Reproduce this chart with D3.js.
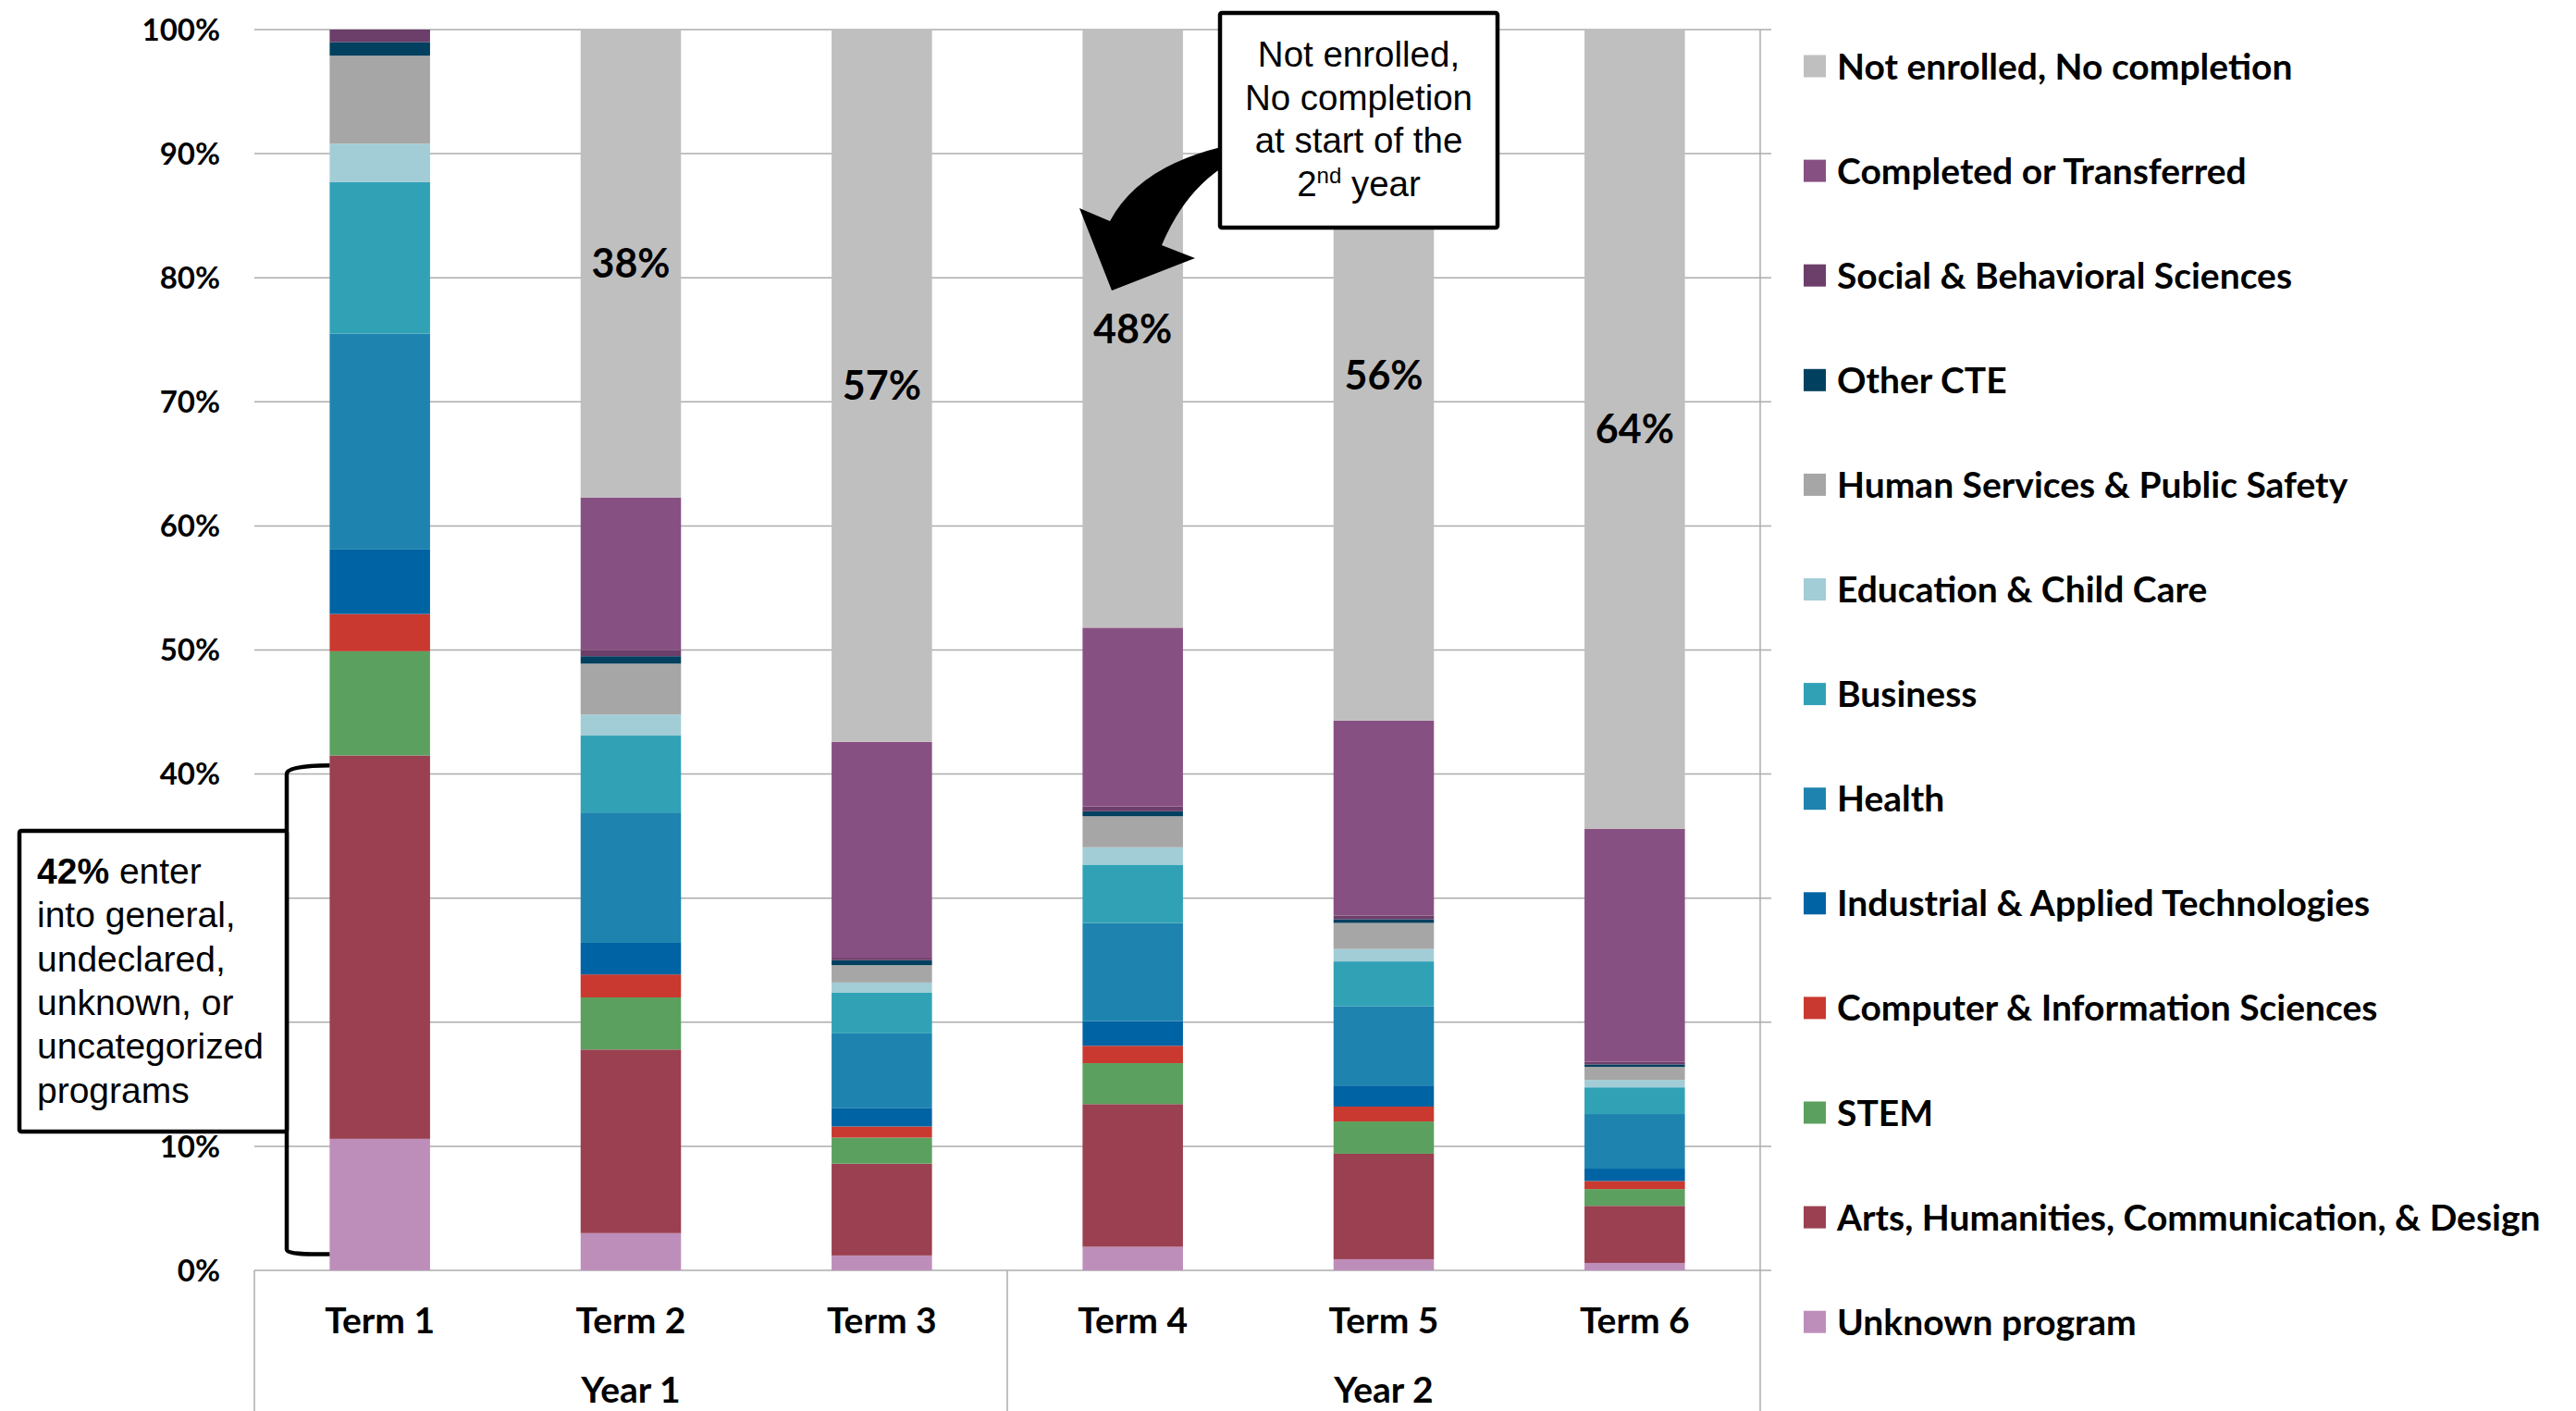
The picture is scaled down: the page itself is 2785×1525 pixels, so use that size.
<!DOCTYPE html>
<html>
<head>
<meta charset="utf-8">
<script src="https://cdn.jsdelivr.net/npm/d3@7"></script>
<style>
  body { margin: 0; background: #fff; }
  text { font-family: Lato, "Open Sans", sans-serif; }
  .note { font-family: "Liberation Sans", Arial, sans-serif; }
</style>
</head>
<body>
<script>
// categories
const terms = ["Term 1", "Term 2", "Term 3", "Term 4", "Term 5", "Term 6"];
const years = ["Year 1", "Year 2"];
const yTicks = [0, 0.1, 0.2, 0.3, 0.4, 0.5, 0.6, 0.7, 0.8, 0.9, 1];

// series values, % of cohort per term (bottom of stack first)
const unknownProgram = [10.6, 3.0, 1.2, 1.9, 0.9, 0.6];
const arts           = [30.9, 14.8, 7.4, 11.5, 8.5, 4.6];
const stem           = [8.4, 4.2, 2.1, 3.3, 2.6, 1.35];
const computer       = [3.0, 1.85, 0.9, 1.4, 1.2, 0.65];
const industrial     = [5.2, 2.55, 1.5, 2.0, 1.7, 1.0];
const health         = [17.4, 10.5, 6.0, 7.9, 6.4, 4.4];
const business       = [12.2, 6.2, 3.3, 4.7, 3.6, 2.15];
const education      = [3.1, 1.7, 0.8, 1.4, 1.0, 0.6];
const humanServices  = [7.1, 4.1, 1.4, 2.5, 2.1, 1.05];
const otherCTE       = [1.1, 0.6, 0.4, 0.4, 0.3, 0.2];
const social         = [1.0, 0.5, 0.2, 0.4, 0.3, 0.2];
const completed      = [0, 12.3, 17.4, 14.4, 15.7, 18.8];
const notEnrolled    = [0, 37.7, 57.4, 48.2, 55.7, 64.4];

const seriesNames = ["Unknown program", "Arts, Humanities, Communication, & Design", "STEM",
  "Computer & Information Sciences", "Industrial & Applied Technologies", "Health", "Business",
  "Education & Child Care", "Human Services & Public Safety", "Other CTE",
  "Social & Behavioral Sciences", "Completed or Transferred", "Not enrolled, No completion"];
const seriesValues = [unknownProgram, arts, stem, computer, industrial, health, business,
  education, humanServices, otherCTE, social, completed, notEnrolled];
const seriesColors = ["#be8eba", "#9a4050", "#5ca05f", "#c9392f", "#0063a3", "#1e84af", "#31a2b6",
  "#a2cdd6", "#a6a6a6", "#02405f", "#6c3e6a", "#875082", "#bfbfbf"];

// table for d3.stack
const table = terms.map((t, i) => {
  const row = { term: t };
  seriesNames.forEach((s, k) => { row[s] = seriesValues[k][i] / 100; });
  return row;
});
const stacked = d3.stack().keys(seriesNames)(table);

const W = 2785, H = 1525;
const plotL = 275, plotR = 1903, plotT = 32, plotB = 1373;

const svg = d3.select("body").append("svg")
  .attr("width", W).attr("height", H).attr("viewBox", `0 0 ${W} ${H}`);

const x = d3.scaleBand().domain(terms).range([plotL, plotR]).paddingInner(0.6).paddingOuter(0.3);
const y = d3.scaleLinear().domain([0, 1]).range([plotB, plotT]);
const color = d3.scaleOrdinal().domain(seriesNames).range(seriesColors);

// gridlines
svg.append("g").selectAll("line").data(yTicks).enter().append("line")
  .attr("x1", plotL).attr("x2", plotR + 12)
  .attr("y1", d => y(d)).attr("y2", d => y(d))
  .attr("stroke", "#acacac").attr("stroke-width", 1.5);

// right border line and category box lines
const mid = (x("Term 3") + x("Term 4") + x.bandwidth()) / 2;
[plotL, mid].forEach(v => {
  svg.append("line").attr("x1", v).attr("x2", v).attr("y1", plotB).attr("y2", H)
    .attr("stroke", "#acacac").attr("stroke-width", 1.5);
});
svg.append("line").attr("x1", plotR).attr("x2", plotR).attr("y1", plotT).attr("y2", H)
  .attr("stroke", "#acacac").attr("stroke-width", 1.5);

// y tick labels
svg.append("g").selectAll("text").data(yTicks).enter().append("text")
  .attr("x", 238).attr("y", d => y(d)).attr("dy", "0.36em")
  .attr("text-anchor", "end").attr("font-size", 33).attr("font-weight", 700)
  .text(d3.format(".0%"));

// bars
svg.append("g").selectAll("g").data(stacked).enter().append("g")
  .attr("fill", d => color(d.key))
  .selectAll("rect").data(d => d).enter().append("rect")
  .attr("x", d => x(d.data.term))
  .attr("width", x.bandwidth())
  .attr("y", d => y(d[1]))
  .attr("height", d => y(d[0]) - y(d[1]));

// data labels on "Not enrolled" segment
const gray = stacked[stacked.length - 1].filter(d => d[1] - d[0] > 0);
svg.append("g").selectAll("text").data(gray).enter().append("text")
  .attr("x", d => x(d.data.term) + x.bandwidth() / 2)
  .attr("y", d => y((d[0] + d[1]) / 2)).attr("dy", "0.36em")
  .attr("text-anchor", "middle").attr("font-size", 43).attr("font-weight", 700)
  .text(d => Math.round((d[1] - d[0]) * 100) + "%");

// term labels
svg.append("g").selectAll("text").data(terms).enter().append("text")
  .attr("x", d => x(d) + x.bandwidth() / 2).attr("y", 1441)
  .attr("text-anchor", "middle").attr("font-size", 39).attr("font-weight", 700)
  .text(d => d);

// year labels
svg.append("g").selectAll("text").data(years).enter().append("text")
  .attr("x", (d, i) => i === 0 ? (plotL + mid) / 2 : (mid + plotR) / 2).attr("y", 1516)
  .attr("text-anchor", "middle").attr("font-size", 39).attr("font-weight", 700)
  .text(d => d);

// legend, top entry = last series
const legend = svg.append("g").selectAll("g").data(seriesNames.slice().reverse()).enter().append("g")
  .attr("transform", (d, i) => `translate(1950, ${71.5 + i * 113.1})`);
legend.append("rect").attr("x", 0).attr("y", -12).attr("width", 24).attr("height", 24)
  .attr("fill", d => color(d));
legend.append("text").attr("x", 36).attr("dy", "0.36em")
  .attr("font-size", 39).attr("font-weight", 700).text(d => d);

// bracket around Unknown + Arts in Term 1
const bx = 310, bEnd = x("Term 1");
svg.append("path")
  .attr("d", `M${bEnd},${y(0.407)} C${bEnd - 25},${y(0.407)} ${bx},${y(0.405)} ${bx},${y(0.400)}
              L${bx},${y(0.017)} C${bx},${y(0.013)} ${bEnd - 25},${y(0.013)} ${bEnd},${y(0.013)}`)
  .attr("fill", "none").attr("stroke", "#000").attr("stroke-width", 4.5);

// left callout box
svg.append("rect").attr("x", 21).attr("y", 898).attr("width", 289).attr("height", 325)
  .attr("fill", "#fff").attr("stroke", "#000").attr("stroke-width", 4.5).attr("rx", 2);
const leftLines = ["enter", "into general,", "undeclared,", "unknown, or", "uncategorized", "programs"];
const lt = svg.append("text").attr("class", "note").attr("font-size", 39).attr("fill", "#000");
leftLines.forEach((s, i) => {
  const t = lt.append("tspan").attr("x", 40).attr("y", 955 + i * 47.3);
  if (i === 0) {
    t.append("tspan").attr("font-weight", 700).text("42%");
    t.append("tspan").text(" " + s);
  } else t.text(s);
});

// curved arrow from right callout to Term 4
svg.append("path")
  .attr("d", "M1320,159 Q1231,181 1200,239 L1167,225 L1202,314 L1292,279 L1256,265 Q1279,210 1320,182 Z")
  .attr("fill", "#000");

// right callout box
svg.append("rect").attr("x", 1319).attr("y", 14).attr("width", 300).attr("height", 232)
  .attr("fill", "#fff").attr("stroke", "#000").attr("stroke-width", 4.5).attr("rx", 2);
const rt = svg.append("text").attr("class", "note").attr("font-size", 38.5)
  .attr("text-anchor", "middle").attr("fill", "#000");
["Not enrolled,", "No completion", "at start of the"].forEach((s, i) => {
  rt.append("tspan").attr("x", 1469).attr("y", 72 + i * 46.7).text(s);
});
const last = rt.append("tspan").attr("x", 1469).attr("y", 72 + 3 * 46.7);
last.append("tspan").text("2");
last.append("tspan").attr("font-size", 24).attr("dy", -14).text("nd");
last.append("tspan").attr("dy", 14).text(" year");
</script>
</body>
</html>
